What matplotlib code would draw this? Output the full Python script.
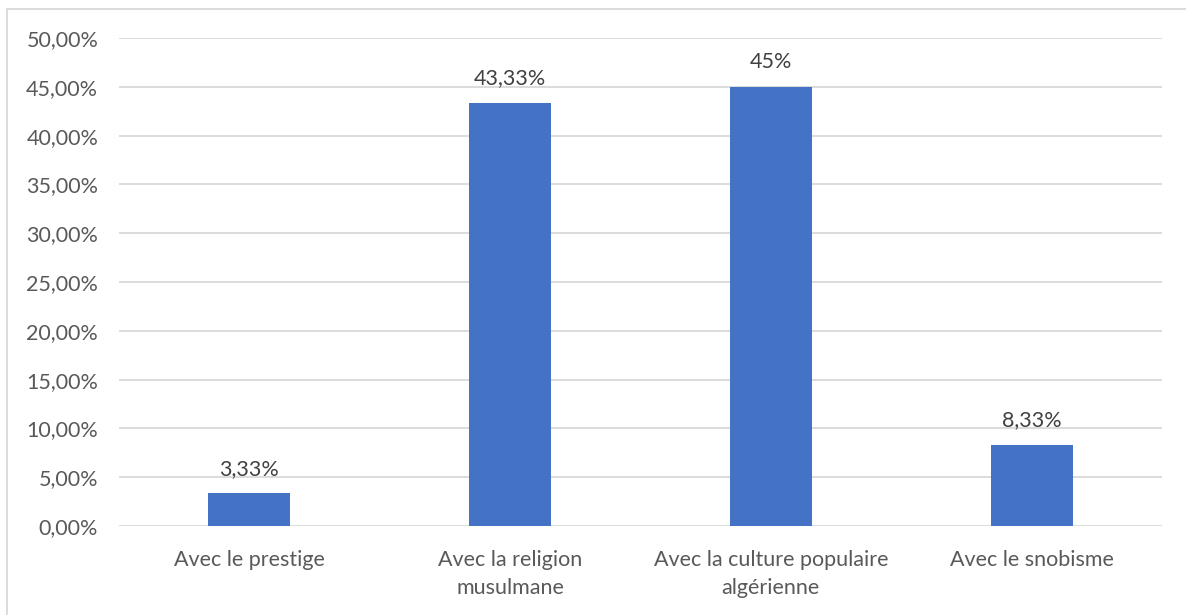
import matplotlib.pyplot as plt
from matplotlib.patches import Rectangle

categories = ["Avec le prestige", "Avec la religion\nmusulmane",
              "Avec la culture populaire\nalgérienne", "Avec le snobisme"]
values = [3.33, 43.33, 45.0, 8.33]
value_labels = ["3,33%", "43,33%", "45%", "8,33%"]
yticks = [0, 5, 10, 15, 20, 25, 30, 35, 40, 45, 50]

plt.rcParams['font.family'] = ['Lato', 'DejaVu Sans']
grey = '#595959'

fig = plt.figure(figsize=(11.86, 6.15), dpi=100)
ax = fig.add_axes([119 / 1186, 1 - 526 / 615, 1043 / 1186, 488 / 615])

x = range(len(values))
ax.bar(x, values, width=0.315, color='#4472C4', zorder=3)
for i, v in enumerate(values):
    ax.text(i, v + 1.5, value_labels[i], ha='center', va='bottom',
            fontsize=15.5, color='#404040')

ax.set_xlim(-0.5, 3.5)
ax.set_ylim(0, 50)
ax.set_yticks(yticks)
ax.set_yticklabels(["%d,00%%" % t for t in yticks])
ax.set_xticks(list(x))
ax.set_xticklabels(categories, linespacing=1.55)
ax.tick_params(axis='both', length=0, labelsize=15.5, labelcolor=grey)
ax.tick_params(axis='x', pad=17)
ax.tick_params(axis='y', pad=15)
ax.yaxis.grid(True, color='#d9d9d9', linewidth=1.3, zorder=0)
for s in ax.spines.values():
    s.set_visible(False)

# outer chart border
fig.patches.append(Rectangle((7 / 1186, -0.05), 1.2, 1 - 9 / 615 + 0.05,
                             transform=fig.transFigure, fill=False,
                             edgecolor='#d9d9d9', linewidth=1.3))

fig.savefig('out.png', dpi=100)
